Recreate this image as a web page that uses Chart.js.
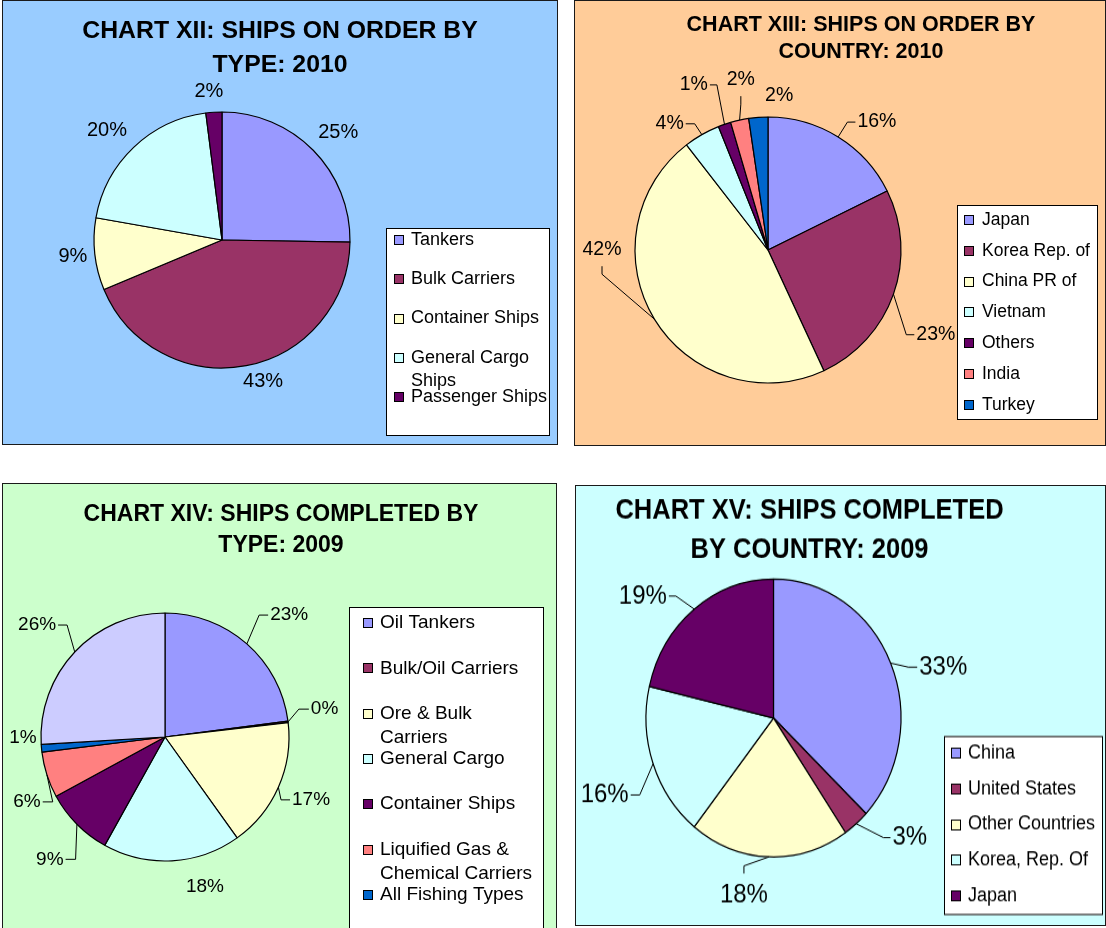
<!DOCTYPE html>
<html><head><meta charset="utf-8">
<script src="https://cdn.jsdelivr.net/npm/chart.js@4.4.1/dist/chart.umd.min.js"></script>
<style>
html,body{margin:0;padding:0;background:#fff;width:1106px;height:928px;overflow:hidden;}
.panel{position:absolute;box-sizing:border-box;border:1px solid #1a1a1a;overflow:hidden;}
.panel canvas{position:absolute;left:0;top:0;}
</style></head><body>
<div class="panel" style="left:2px;top:0;width:556px;height:445px;background:#99CCFF"><canvas id="c1" width="554" height="443"></canvas></div>
<div class="panel" style="left:574px;top:0;width:532px;height:446px;background:#FFCC99"><canvas id="c2" width="530" height="444"></canvas></div>
<div class="panel" style="left:2px;top:483px;width:555px;height:450px;background:#CCFFCC"><canvas id="c3" width="553" height="444"></canvas></div>
<div class="panel" style="left:575px;top:485px;width:531px;height:441px;background:#CCFFFF"><canvas id="c4" width="529" height="403" style="transform:scaleY(1.09);transform-origin:0 0;"></canvas></div>
<script>
// ---------- DATA ----------
// Chart XII: ships on order by type, 2010 (%)
const orderTypeLabels = ['Tankers', 'Bulk Carriers', 'Container Ships', 'General Cargo Ships', 'Passenger Ships'];
const orderTypeValues = [25, 43, 9, 20, 2];
// Chart XIII: ships on order by country, 2010 (%)
const orderCountryLabels = ['Japan', 'Korea Rep. of', 'China PR of', 'Vietnam', 'Others', 'India', 'Turkey'];
const orderCountryValues = [16, 23, 42, 4, 1.4, 2, 2.1];
// Chart XIV: ships completed by type, 2009 (%)
const completedTypeLabels = ['Oil Tankers', 'Bulk/Oil Carriers', 'Ore & Bulk Carriers', 'General Cargo', 'Container Ships', 'Liquified Gas & Chemical Carriers', 'All Fishing Types', 'Others'];
const completedTypeValues = [23, 0.2, 17, 18, 9, 6, 1, 26];
// Chart XV: ships completed by country, 2009 (%)
const completedCountryLabels = ['China', 'United States', 'Other Countries', 'Korea, Rep. Of', 'Japan'];
const completedCountryValues = [33, 3, 18, 16, 19];

// ---------- STYLE ----------
const PERI = '#9999FF', PLUM = '#993366', IVORY = '#FFFFCC', TURQ = '#CCFFFF',
      DKPUR = '#660066', CORAL = '#FF8080', OCEAN = '#0066CC', LAV = '#CCCCFF';
const FONT = '"Liberation Sans", Arial, Helvetica, sans-serif';

function wrapText(ctx, text, maxW) {
  const words = text.split(' ');
  const lines = [];
  let cur = '';
  words.forEach(w => {
    const t = cur ? cur + ' ' + w : w;
    if (cur && ctx.measureText(t).width > maxW) { lines.push(cur); cur = w; }
    else cur = t;
  });
  if (cur) lines.push(cur);
  return lines;
}

const decorPlugin = {
  id: 'decor',
  afterDraw(chart, args, opts) {
    const ctx = chart.ctx;
    ctx.save();
    // title
    const t = opts.title;
    ctx.fillStyle = '#000';
    ctx.font = 'bold ' + t.size + 'px ' + FONT;
    ctx.textAlign = 'center';
    ctx.textBaseline = 'middle';
    t.lines.forEach((ln, i) => ctx.fillText(ln, t.x, t.y[i]));
    // percentage labels with leader lines
    const meta = chart.getDatasetMeta(0);
    const data = chart.data.datasets[0].data;
    const L = opts.labels;
    ctx.font = L.size + 'px ' + FONT;
    ctx.lineWidth = 1;
    ctx.strokeStyle = '#000';
    meta.data.forEach((arc, i) => {
      const p = arc.getProps(['x', 'y', 'startAngle', 'endAngle', 'outerRadius'], true);
      const mid = (p.startAngle + p.endAngle) / 2;
      const pl = L.place[i];
      const a = mid + pl[0] * Math.PI / 180;
      const tx = p.x + pl[1] * Math.cos(a), ty = p.y + pl[1] * Math.sin(a);
      const txt = Math.round(data[i]) + '%';
      ctx.fillStyle = '#000';
      ctx.fillText(txt, tx, ty);
      const lead = pl[2];
      if (lead) {
        const w = ctx.measureText(txt).width, h = L.size * 0.72;
        const s = pl[3] || 8;
        const g = pl[4] !== undefined ? pl[4] : (lead === 'L' || lead === 'R' ? 2 : 10);
        const ax = p.x + p.outerRadius * Math.cos(mid), ay = p.y + p.outerRadius * Math.sin(mid);
        let ex, ey, bx, by;
        if (lead === 'L') { ex = tx - w / 2 - g; ey = ty; bx = ex - s; by = ey; }
        else if (lead === 'R') { ex = tx + w / 2 + g; ey = ty; bx = ex + s; by = ey; }
        else if (lead === 'T') { ex = tx; ey = ty - h / 2 - g; bx = ex; by = ey - s; }
        else { ex = tx; ey = ty + h / 2 + g; bx = ex; by = ey + s; }
        ctx.beginPath();
        ctx.moveTo(ax, ay); ctx.lineTo(bx, by); ctx.lineTo(ex, ey);
        ctx.stroke();
      }
    });
    // legend
    const G = opts.legend;
    const b = G.box;
    ctx.fillStyle = '#fff';
    ctx.fillRect(b[0], b[1], b[2] - b[0], b[3] - b[1]);
    ctx.strokeStyle = '#000';
    ctx.strokeRect(b[0] + 0.5, b[1] + 0.5, b[2] - b[0] - 1, b[3] - b[1] - 1);
    ctx.font = G.size + 'px ' + FONT;
    ctx.textAlign = 'left';
    const colors = chart.data.datasets[0].backgroundColor;
    chart.data.labels.forEach((lab, i) => {
      const y = G.y0 + i * G.dy;
      const lines = wrapText(ctx, lab, G.maxW);
      ctx.fillStyle = colors[i];
      ctx.fillRect(G.mx, Math.round(y - G.ms / 2), G.ms, G.ms);
      ctx.strokeRect(G.mx + 0.5, Math.round(y - G.ms / 2) + 0.5, G.ms - 1, G.ms - 1);
      ctx.fillStyle = '#000';
      lines.forEach((ln, k) => ctx.fillText(ln, G.tx, y + k * G.lh));
    });
    ctx.restore();
  }
};

function makePie(id, labels, values, colors, cx, cy, R, decor) {
  const cv = document.getElementById(id);
  const W = cv.width, H = cv.height;
  return new Chart(cv, {
    type: 'pie',
    data: {
      labels: labels,
      datasets: [{ data: values, backgroundColor: colors, borderColor: '#000', borderWidth: 1.2, radius: R, hoverOffset: 0 }]
    },
    options: {
      responsive: false,
      animation: false,
      events: [],
      layout: { padding: { left: cx - R, right: W - cx - R, top: cy - R, bottom: H - cy - R } },
      plugins: { legend: { display: false }, tooltip: { enabled: false }, title: { display: false }, decor: decor }
    },
    plugins: [decorPlugin]
  });
}

makePie('c1', orderTypeLabels, orderTypeValues, [PERI, PLUM, IVORY, TURQ, DKPUR], 219, 239, 128, {
  title: { lines: ['CHART XII: SHIPS ON ORDER BY', 'TYPE: 2010'], x: 277, y: [30, 64], size: 24.8 },
  labels: { size: 20, place: [[1.9, 158, ''], [-5.3, 147, ''], [0, 150, ''], [-2.7, 159, ''], [-1.4, 149, '']] },
  legend: { box: [383, 227, 547, 435], mx: 391, ms: 10, tx: 408, y0: 239, dy: 39.25, lh: 23, size: 18, maxW: 142 }
});

makePie('c2', orderCountryLabels, orderCountryValues, [PERI, PLUM, IVORY, TURQ, DKPUR, CORAL, OCEAN], 193, 249, 133, {
  title: { lines: ['CHART XIII: SHIPS ON ORDER BY', 'COUNTRY: 2010'], x: 286, y: [24, 50.7], size: 21.5 },
  labels: { size: 19.5, place: [[8.6, 168, 'L', 8], [7.4, 188, 'L', 8], [31.6, 166, 'B', 8], [-8.1, 160, 'R', 9], [-5.1, 181, 'R', 7], [3.3, 173, 'B', 8], [8.3, 155, '']] },
  legend: { box: [382, 204, 523, 419], mx: 389, ms: 10, tx: 407, y0: 219, dy: 30.8, lh: 22, size: 17.5, maxW: 200 }
});

makePie('c3', completedTypeLabels, completedTypeValues, [PERI, PLUM, IVORY, TURQ, DKPUR, CORAL, OCEAN, LAV], 162, 253, 124, {
  title: { lines: ['CHART XIV: SHIPS COMPLETED BY', 'TYPE: 2009'], x: 278, y: [31, 61.5], size: 23 },
  labels: { size: 19, place: [[4.2, 174, 'L', 9], [-2.9, 162, 'L', 10], [-0.6, 159, 'L', 9], [-11.7, 155, ''], [-2, 168, 'R', 10], [-7.4, 152.5, 'R', 10], [4.8, 142, ''], [-2.1, 170, 'R', 9]] },
  legend: { box: [346, 123, 541, 470], mx: 360, ms: 10, tx: 377, y0: 139, dy: 45.3, lh: 24.5, size: 19, maxW: 163 }
});

makePie('c4', completedCountryLabels, completedCountryValues, [PERI, PLUM, IVORY, TURQ, DKPUR], 197.5, 212.8, 127.5, {
  title: { lines: ['CHART XV: SHIPS COMPLETED', 'BY COUNTRY: 2009'], x: 233.5, y: [23.4, 58.7], size: 25.5 },
  labels: { size: 24, place: [[7.9, 176, 'L', 9], [-10.7, 175, 'L', 7], [8.3, 165, 'T', 7, 11], [-3.5, 183, 'R', 9], [-11, 172, 'R', 7]] },
  legend: { box: [368, 229.4, 527, 393.6], mx: 375, ms: 10, tx: 392, y0: 245, dy: 32.75, lh: 22, size: 18, maxW: 200 }
});
</script>
</body></html>
